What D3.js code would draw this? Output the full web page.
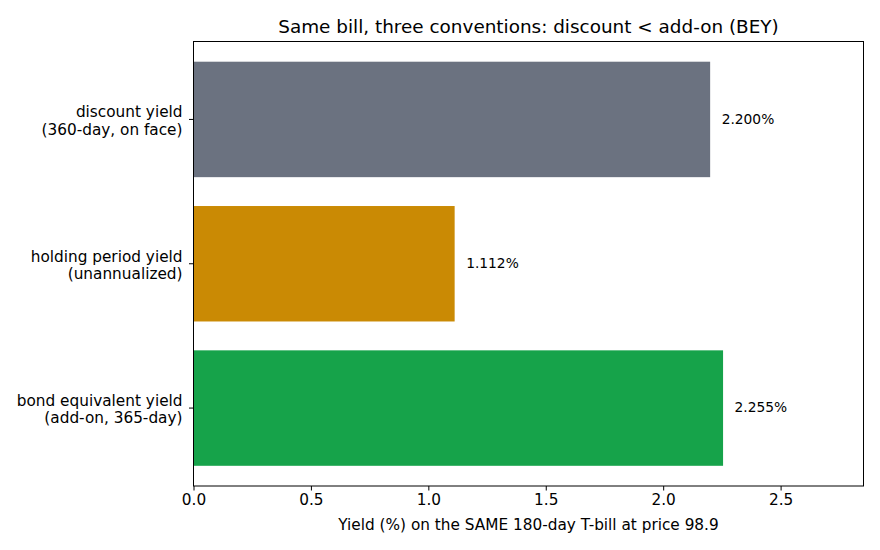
<!DOCTYPE html>
<html>
<head>
<meta charset="utf-8">
<script src="https://cdn.jsdelivr.net/npm/d3@7"></script>
<style>
  body { margin: 0; background: #fff; }
  svg { font-family: "DejaVu Sans", sans-serif; }
</style>
</head>
<body>
<svg id="chart" width="880" height="550"></svg>
<script>
const labels = [
  ["discount yield", "(360-day, on face)"],
  ["holding period yield", "(unannualized)"],
  ["bond equivalent yield", "(add-on, 365-day)"]
];
const values = [2.200, 1.112, 2.255];
const colors = ["#6b7280", "#ca8a04", "#16a34a"];
const xTicks = [0, 0.5, 1.0, 1.5, 2.0, 2.5];

const svg = d3.select("#chart");
const margin = { top: 41.5, right: 16.5, bottom: 64, left: 193.5 };
const iw = 880 - margin.left - margin.right;
const ih = 550 - margin.top - margin.bottom;
const g = svg.append("g").attr("transform", `translate(${margin.left},${margin.top})`);

const x = d3.scaleLinear().domain([0, 2.853]).range([0, iw]);
// matplotlib-style: bars of height 0.8 at 0..2, 5% margins
const y = d3.scaleLinear().domain([-0.54, 2.54]).range([0, ih]);

g.selectAll("rect.bar")
  .data(values)
  .join("rect")
    .attr("class", "bar")
    .attr("x", x(0))
    .attr("y", (d, i) => y(i - 0.4))
    .attr("width", d => x(d) - x(0))
    .attr("height", y(0.8) - y(0))
    .attr("fill", (d, i) => colors[i]);

g.selectAll("text.val")
  .data(values)
  .join("text")
    .attr("class", "val")
    .attr("x", d => x(d) + 11.5)
    .attr("y", (d, i) => y(i))
    .attr("dy", "0.3em")
    .attr("font-size", 13.8)
    .attr("fill", "#000")
    .text(d => d3.format(".3f")(d) + "%");

// frame
g.append("rect")
  .attr("width", iw).attr("height", ih)
  .attr("fill", "none").attr("stroke", "#000").attr("stroke-width", 1);

// x axis
const xa = g.append("g")
  .attr("transform", `translate(0,${ih})`)
  .call(d3.axisBottom(x).tickValues(xTicks).tickFormat(d3.format(".1f")).tickSize(4.5).tickPadding(4));
xa.select(".domain").remove();
xa.selectAll("text").attr("font-size", 15.3).attr("font-family", "DejaVu Sans").attr("fill", "#000");
xa.selectAll("line").attr("stroke", "#000");

// y ticks
const ya = g.append("g");
labels.forEach((lab, i) => {
  ya.append("line")
    .attr("x1", -4.5).attr("x2", 0)
    .attr("y1", y(i)).attr("y2", y(i))
    .attr("stroke", "#000");
  const t = ya.append("text")
    .attr("x", -11)
    .attr("y", y(i))
    .attr("text-anchor", "end")
    .attr("font-size", 15.3)
    .attr("fill", "#000");
  t.append("tspan").attr("x", -11).attr("dy", "-0.14em").text(lab[0]);
  t.append("tspan").attr("x", -11).attr("dy", "1.14em").text(lab[1]);
});

g.append("text")
  .attr("x", iw / 2)
  .attr("y", ih + 44)
  .attr("text-anchor", "middle")
  .attr("font-size", 15.3)
  .attr("fill", "#000")
  .text("Yield (%) on the SAME 180-day T-bill at price 98.9");

g.append("text")
  .attr("x", iw / 2)
  .attr("y", -9)
  .attr("text-anchor", "middle")
  .attr("font-size", 18.4)
  .attr("fill", "#000")
  .text("Same bill, three conventions: discount < add-on (BEY)");
</script>
</body>
</html>
